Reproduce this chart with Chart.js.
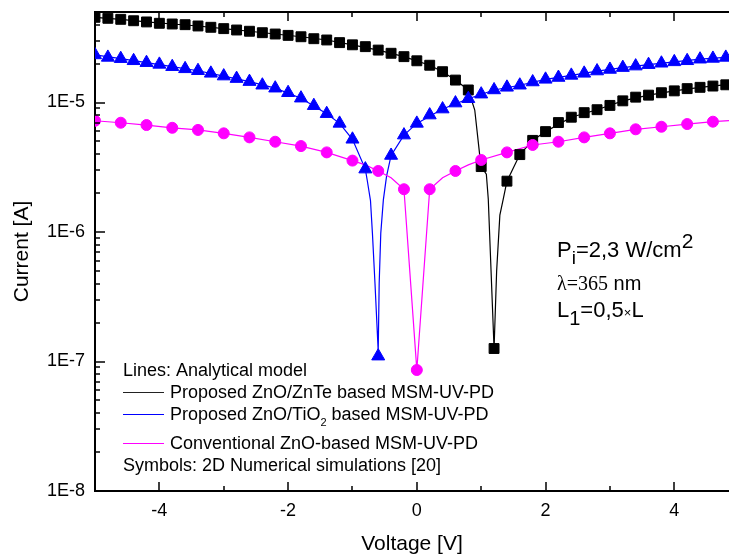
<!DOCTYPE html>
<html>
<head>
<meta charset="utf-8">
<script src="https://cdn.jsdelivr.net/npm/chart.js@4.4.0/dist/chart.umd.min.js"></script>
<style>
  html, body { margin: 0; padding: 0; background: #fff; }
  #wrap { width: 729px; height: 559px; }
</style>
</head>
<body>
<div id="wrap"><canvas id="grafico" width="729" height="559"></canvas></div>
<script>
// simbolos: simulacoes numericas 2D
const simZnTeV = [-5.0, -4.8, -4.6, -4.4, -4.2, -4.0, -3.8, -3.6, -3.4, -3.2, -3.0, -2.8, -2.6, -2.4, -2.2, -2.0, -1.8, -1.6, -1.4, -1.2, -1.0, -0.8, -0.6, -0.4, -0.2, 0.0, 0.2, 0.4, 0.6, 0.8, 1.0, 1.2, 1.4, 1.6, 1.8, 2.0, 2.2, 2.4, 2.6, 2.8, 3.0, 3.2, 3.4, 3.6, 3.8, 4.0, 4.2, 4.4, 4.6, 4.8];
const simZnTeI = [4.55e-5, 4.47e-5, 4.39e-5, 4.28e-5, 4.19e-5, 4.09e-5, 4.04e-5, 3.99e-5, 3.90e-5, 3.81e-5, 3.72e-5, 3.63e-5, 3.55e-5, 3.46e-5, 3.38e-5, 3.30e-5, 3.22e-5, 3.11e-5, 3.04e-5, 2.90e-5, 2.79e-5, 2.70e-5, 2.54e-5, 2.40e-5, 2.26e-5, 2.10e-5, 1.94e-5, 1.73e-5, 1.49e-5, 1.25e-5, 3.2e-6, 1.26e-7, 2.47e-6, 3.96e-6, 5.1e-6, 5.96e-6, 7.0e-6, 7.7e-6, 8.35e-6, 8.8e-6, 9.5e-6, 1.03e-5, 1.10e-5, 1.14e-5, 1.19e-5, 1.23e-5, 1.28e-5, 1.31e-5, 1.34e-5, 1.37e-5];

const simTiO2V = [-5.0, -4.8, -4.6, -4.4, -4.2, -4.0, -3.8, -3.6, -3.4, -3.2, -3.0, -2.8, -2.6, -2.4, -2.2, -2.0, -1.8, -1.6, -1.4, -1.2, -1.0, -0.8, -0.6, -0.4, -0.2, 0.0, 0.2, 0.4, 0.6, 0.8, 1.0, 1.2, 1.4, 1.6, 1.8, 2.0, 2.2, 2.4, 2.6, 2.8, 3.0, 3.2, 3.4, 3.6, 3.8, 4.0, 4.2, 4.4, 4.6, 4.8];
const simTiO2I = [2.33e-5, 2.23e-5, 2.18e-5, 2.10e-5, 2.03e-5, 1.97e-5, 1.89e-5, 1.82e-5, 1.76e-5, 1.68e-5, 1.60e-5, 1.53e-5, 1.45e-5, 1.36e-5, 1.29e-5, 1.19e-5, 1.08e-5, 9.45e-6, 8.2e-6, 6.9e-6, 5.2e-6, 3.06e-6, 1.1e-7, 3.9e-6, 5.6e-6, 6.9e-6, 8.0e-6, 8.9e-6, 9.9e-6, 1.07e-5, 1.16e-5, 1.25e-5, 1.31e-5, 1.36e-5, 1.44e-5, 1.51e-5, 1.56e-5, 1.62e-5, 1.68e-5, 1.75e-5, 1.80e-5, 1.86e-5, 1.91e-5, 1.96e-5, 2.01e-5, 2.06e-5, 2.10e-5, 2.16e-5, 2.19e-5, 2.23e-5];

const simZnOV = [-5.0, -4.6, -4.2, -3.8, -3.4, -3.0, -2.6, -2.2, -1.8, -1.4, -1.0, -0.6, -0.2, 0.0, 0.2, 0.6, 1.0, 1.4, 1.8, 2.2, 2.6, 3.0, 3.4, 3.8, 4.2, 4.6];
const simZnOI = [7.23e-6, 6.98e-6, 6.70e-6, 6.38e-6, 6.14e-6, 5.78e-6, 5.38e-6, 4.98e-6, 4.61e-6, 4.12e-6, 3.56e-6, 2.96e-6, 2.14e-6, 8.6e-8, 2.14e-6, 2.96e-6, 3.6e-6, 4.12e-6, 4.70e-6, 4.98e-6, 5.38e-6, 5.78e-6, 6.21e-6, 6.50e-6, 6.82e-6, 7.11e-6];

// linhas: modelo analitico
const modZnTeV = [-5.0, -4.6, -4.2, -3.8, -3.4, -3.0, -2.6, -2.2, -1.8, -1.4, -1.0, -0.6, -0.2, 0.2, 0.4, 0.6, 0.8, 0.9, 0.98, 1.0, 1.08, 1.11, 1.2, 1.24, 1.29, 1.34, 1.4, 1.6, 1.8, 2.0, 2.4, 2.8, 3.2, 3.6, 4.0, 4.4, 4.85];
const modZnTeI = [4.55e-5, 4.39e-5, 4.19e-5, 4.04e-5, 3.90e-5, 3.72e-5, 3.55e-5, 3.38e-5, 3.22e-5, 3.04e-5, 2.79e-5, 2.54e-5, 2.26e-5, 1.94e-5, 1.73e-5, 1.49e-5, 1.25e-5, 8.75e-6, 3.8e-6, 3.2e-6, 2.8e-6, 1.8e-6, 1.26e-7, 5.0e-7, 1.35e-6, 1.77e-6, 2.47e-6, 3.96e-6, 5.1e-6, 5.96e-6, 7.7e-6, 8.8e-6, 1.03e-5, 1.14e-5, 1.23e-5, 1.31e-5, 1.38e-5];

const modTiO2V = [-5.0, -4.6, -4.2, -3.8, -3.4, -3.0, -2.6, -2.2, -1.8, -1.4, -1.2, -1.0, -0.8, -0.77, -0.72, -0.69, -0.65, -0.6, -0.585, -0.56, -0.52, -0.47, -0.4, -0.2, 0.0, 0.4, 0.8, 1.2, 1.6, 2.0, 2.4, 2.8, 3.2, 3.6, 4.0, 4.4, 4.85];
const modTiO2I = [2.33e-5, 2.18e-5, 2.03e-5, 1.89e-5, 1.76e-5, 1.60e-5, 1.45e-5, 1.29e-5, 1.08e-5, 8.2e-6, 6.9e-6, 5.2e-6, 3.06e-6, 2.5e-6, 1.75e-6, 9.8e-7, 4.0e-7, 1.2e-7, 4.0e-7, 9.8e-7, 1.77e-6, 2.7e-6, 3.9e-6, 5.6e-6, 6.9e-6, 8.9e-6, 1.07e-5, 1.25e-5, 1.36e-5, 1.51e-5, 1.62e-5, 1.75e-5, 1.86e-5, 1.96e-5, 2.06e-5, 2.16e-5, 2.24e-5];

const modZnOV = [-5.0, -4.6, -4.2, -3.8, -3.4, -3.0, -2.6, -2.2, -1.8, -1.4, -1.0, -0.8, -0.6, -0.4, -0.2, 0.0, 0.2, 0.4, 0.6, 0.8, 1.0, 1.4, 1.8, 2.2, 2.6, 3.0, 3.4, 3.8, 4.2, 4.6, 4.85];
const modZnOI = [7.23e-6, 6.98e-6, 6.70e-6, 6.38e-6, 6.14e-6, 5.78e-6, 5.38e-6, 4.98e-6, 4.61e-6, 4.12e-6, 3.56e-6, 3.3e-6, 2.96e-6, 2.62e-6, 2.14e-6, 8.6e-8, 2.14e-6, 2.62e-6, 2.96e-6, 3.3e-6, 3.6e-6, 4.12e-6, 4.70e-6, 4.98e-6, 5.38e-6, 5.78e-6, 6.21e-6, 6.50e-6, 6.82e-6, 7.11e-6, 7.25e-6];

// eixos
const xMin = -5;
const xMax = 4.85;
const xTickVolts = [-4, -3, -2, -1, 0, 1, 2, 3, 4];
const xTickLabels = ['-4', '', '-2', '', '0', '', '2', '', '4'];
const yMin = 1e-8;
const yMax = 5e-5;
const yMajorTicks = [1e-8, 1e-7, 1e-6, 1e-5];
const yTickLabels = ['1E-8', '1E-7', '1E-6', '1E-5'];

let yTickValues = [];
yMajorTicks.forEach(d => {
    yTickValues.push(d);
    for (let m = 2; m <= 9; m++) {
        if (m * d < yMax) yTickValues.push(m * d);
    }
});

const fonte = 'Arial, "Liberation Sans", sans-serif';
const fonteSerif = '"Times New Roman", "Liberation Serif", serif';

function pontos(xs, ys) {
    return xs.map((v, i) => ({ x: v, y: ys[i] }));
}

// escreve texto com sub/sobrescritos, pedaco a pedaco
function escreve(c, partes, x, y) {
    partes.forEach(p => {
        c.font = p.f;
        c.fillText(p.t, x, y + (p.dy || 0));
        x += c.measureText(p.t).width;
    });
}

// sem margem extra para os rotulos
function semPadding(s) {
    s.paddingLeft = 0;
    s.paddingRight = 0;
    s.paddingTop = 0;
    s.paddingBottom = 0;
}

const molduraPlugin = {
    id: 'moldura',
    afterDraw(chart) {
        const c = chart.ctx;
        const a = chart.chartArea;
        const sx = chart.scales.x;
        const sy = chart.scales.y;
        c.save();
        c.strokeStyle = '#000';
        c.lineWidth = 2;
        c.beginPath();
        c.moveTo(a.left - 1, a.top);
        c.lineTo(a.right, a.top);
        c.stroke();

        // ticks para dentro
        c.lineWidth = 1.5;
        xTickVolts.forEach(v => {
            let px = Math.round(sx.getPixelForValue(v));
            let len = v % 2 === 0 ? 9 : 5;
            c.beginPath();
            c.moveTo(px, a.bottom);
            c.lineTo(px, a.bottom - len);
            c.moveTo(px, a.top);
            c.lineTo(px, a.top + len);
            c.stroke();
        });
        yTickValues.forEach(v => {
            let py = Math.round(sy.getPixelForValue(v));
            let len = yMajorTicks.indexOf(v) >= 0 ? 10 : 5;
            c.beginPath();
            c.moveTo(a.left, py);
            c.lineTo(a.left + len, py);
            c.stroke();
        });

        // legenda
        c.fillStyle = '#000';
        c.textBaseline = 'alphabetic';
        c.textAlign = 'left';
        const f18 = '18px ' + fonte;
        const f11 = '11px ' + fonte;
        escreve(c, [{ t: 'Lines: Analytical model', f: f18 }], 123, 376);
        const amostras = [['#222', 392], ['#0000ff', 414], ['#ff00ff', 443]];
        amostras.forEach(s => {
            c.strokeStyle = s[0];
            c.lineWidth = 1.2;
            c.beginPath();
            c.moveTo(123, s[1] + 0.5);
            c.lineTo(164, s[1] + 0.5);
            c.stroke();
        });
        escreve(c, [{ t: 'Proposed ZnO/ZnTe based MSM-UV-PD', f: f18 }], 170, 398);
        escreve(c, [
            { t: 'Proposed ZnO/TiO', f: f18 },
            { t: '2', f: f11, dy: 6 },
            { t: ' based MSM-UV-PD', f: f18 }
        ], 170, 420);
        escreve(c, [{ t: 'Conventional ZnO-based MSM-UV-PD', f: f18 }], 170, 449);
        escreve(c, [{ t: 'Symbols: 2D Numerical simulations [20]', f: f18 }], 123, 471);

        // anotacoes
        const f22 = '22px ' + fonte;
        escreve(c, [
            { t: 'P', f: f22 },
            { t: 'i', f: '19px ' + fonte, dy: 7 },
            { t: '=2,3 W/cm', f: f22 },
            { t: '2', f: '21px ' + fonte, dy: -9 }
        ], 557, 257);
        escreve(c, [
            { t: '\u03bb=365', f: '20px ' + fonteSerif },
            { t: ' nm', f: '20px ' + fonte }
        ], 557, 290);
        escreve(c, [
            { t: 'L', f: f22 },
            { t: '1', f: '20px ' + fonte, dy: 8 },
            { t: '=0,5', f: f22 },
            { t: '\u00d7', f: '13px ' + fonte },
            { t: 'L', f: f22 }
        ], 557, 317);
        c.restore();
    }
};

const grafico = document.getElementById('grafico').getContext('2d');

const meugrafico = new Chart(grafico, {
    type: 'scatter',
    data: {
        datasets: [
            { data: pontos(modZnTeV, modZnTeI), showLine: true, borderColor: '#000', borderWidth: 1.2, pointRadius: 0, order: 10 },
            { data: pontos(modTiO2V, modTiO2I), showLine: true, borderColor: '#0000ff', borderWidth: 1.2, pointRadius: 0, order: 9 },
            { data: pontos(modZnOV, modZnOI), showLine: true, borderColor: '#ff00ff', borderWidth: 1.2, pointRadius: 0, order: 8 },
            { data: pontos(simZnTeV, simZnTeI), pointStyle: 'rect', pointRadius: 7, backgroundColor: '#000', borderColor: '#000', borderWidth: 1, order: 3 },
            { data: pontos(simTiO2V, simTiO2I), pointStyle: 'triangle', pointRadius: 7.5, backgroundColor: '#0000ff', borderColor: '#0000ff', borderWidth: 1, order: 2 },
            { data: pontos(simZnOV, simZnOI), pointStyle: 'circle', pointRadius: 5.5, backgroundColor: '#ff00ff', borderColor: '#ff00ff', borderWidth: 1, order: 1 }
        ]
    },
    options: {
        responsive: false,
        animation: false,
        devicePixelRatio: 1,
        events: [],
        layout: { autoPadding: false, padding: { top: 12, left: 0, right: 0, bottom: 0 } },
        plugins: {
            legend: { display: false },
            tooltip: { enabled: false }
        },
        scales: {
            x: {
                type: 'linear',
                min: xMin,
                max: xMax,
                // ticks nas pontas sem rotulo, para nao gerar margem
                afterBuildTicks: s => { s.ticks = [xMin].concat(xTickVolts, [xMax]).map(v => ({ value: v })); },
                afterFit: s => { s.height = 68; semPadding(s); },
                grid: { display: false, drawTicks: false },
                border: { display: true, color: '#000', width: 2 },
                ticks: {
                    autoSkip: false,
                    maxRotation: 0,
                    padding: 0,
                    color: '#000',
                    font: { family: fonte, size: 18, lineHeight: '40px' },
                    callback: v => {
                        let i = xTickVolts.indexOf(v);
                        return i >= 0 ? xTickLabels[i] : '';
                    }
                },
                title: {
                    display: true,
                    text: 'Voltage [V]',
                    color: '#000',
                    font: { family: fonte, size: 21 },
                    padding: { top: 0, bottom: 2 }
                }
            },
            y: {
                type: 'logarithmic',
                min: yMin,
                max: yMax,
                afterBuildTicks: s => { s.ticks = yTickValues.map(v => ({ value: v })); },
                afterFit: s => { s.width = 95; semPadding(s); },
                grid: { display: false, drawTicks: false },
                border: { display: true, color: '#000', width: 2 },
                ticks: {
                    autoSkip: false,
                    padding: 10,
                    color: '#000',
                    font: { family: fonte, size: 18 },
                    callback: v => {
                        let i = yMajorTicks.indexOf(v);
                        return i >= 0 ? yTickLabels[i] : '';
                    }
                },
                title: {
                    display: true,
                    text: 'Current [A]',
                    color: '#000',
                    font: { family: fonte, size: 21 },
                    padding: { top: 10, bottom: 0 }
                }
            }
        }
    },
    plugins: [molduraPlugin]
});
</script>
</body>
</html>
